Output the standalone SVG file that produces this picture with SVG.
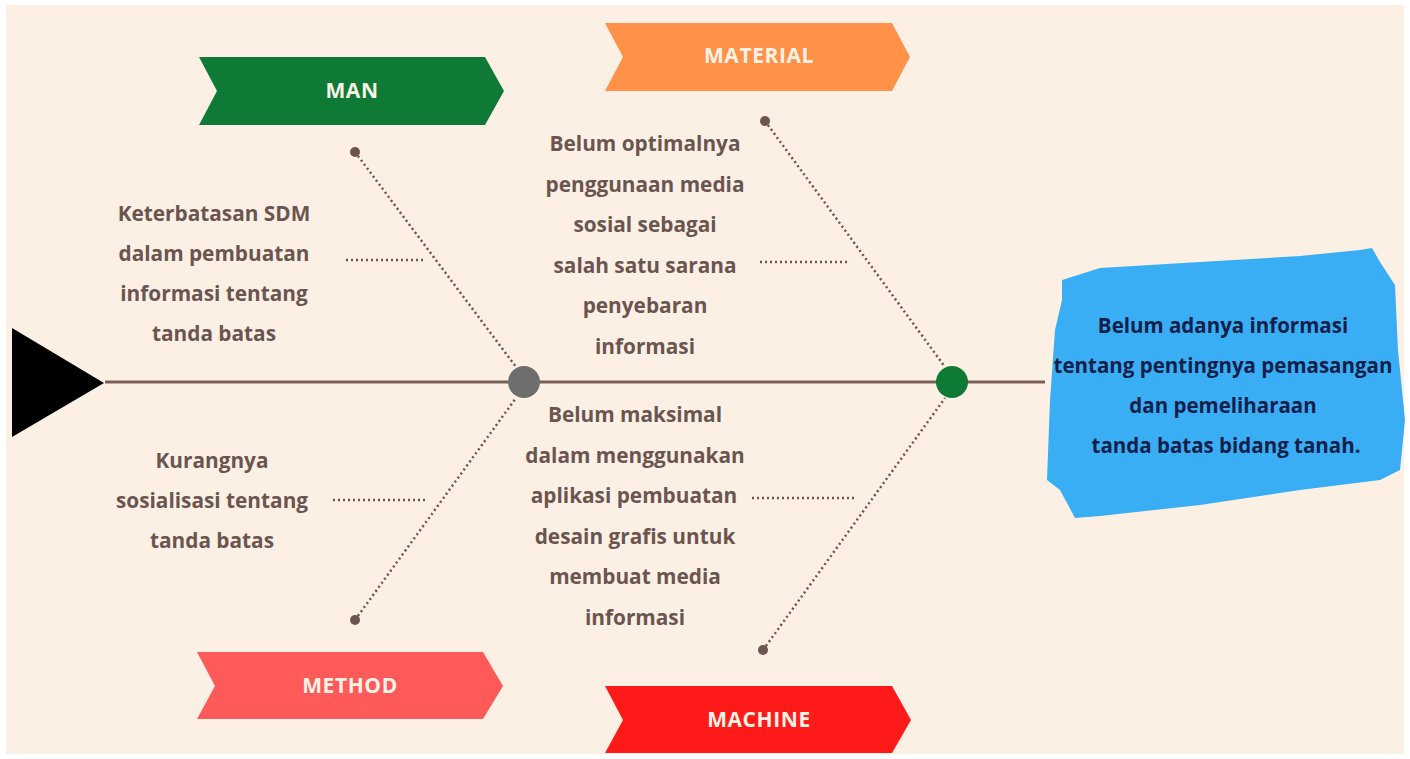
<svg xmlns="http://www.w3.org/2000/svg" width="1410" height="759" viewBox="0 0 1410 759">
<style>
.lbl{font-family:"Open Sans","Liberation Sans",sans-serif;font-weight:700;font-size:21px;letter-spacing:0.6px;fill:#F7F2E6;text-anchor:middle;dominant-baseline:central}
.cause{font-family:"Open Sans","Liberation Sans",sans-serif;font-weight:700;font-size:20.8px;fill:#6B5550;text-anchor:middle;dominant-baseline:central}
.eff{font-family:"Open Sans","Liberation Sans",sans-serif;font-weight:700;font-size:20.5px;fill:#13204A;text-anchor:middle;dominant-baseline:central}
.dot{stroke:#6B5550;stroke-width:2.5;stroke-dasharray:2 3;fill:none}
.end{fill:#6B5550}
</style>
<rect x="0" y="0" width="1410" height="759" fill="#FFFFFF"/>
<rect x="6" y="5" width="1398" height="749" fill="#FCF0E4"/>

<g id="connectors">
  <line x1="105" y1="382" x2="1045" y2="382" stroke="#7A6058" stroke-width="3"/>
  <line class="dot" x1="355" y1="152" x2="516" y2="367"/>
  <line class="dot" x1="355" y1="620" x2="516" y2="398"/>
  <line class="dot" x1="765" y1="121" x2="945" y2="367"/>
  <line class="dot" x1="763" y1="650" x2="945" y2="398"/>
  <circle class="end" cx="355" cy="152" r="5"/>
  <circle class="end" cx="355" cy="620" r="5"/>
  <circle class="end" cx="765" cy="121" r="5"/>
  <circle class="end" cx="763" cy="650" r="5"/>
  <line class="dot" x1="346" y1="260" x2="425" y2="260"/>
  <line class="dot" x1="333" y1="500" x2="425" y2="500"/>
  <line class="dot" x1="760" y1="262" x2="850" y2="262"/>
  <line class="dot" x1="752" y1="498" x2="857" y2="498"/>
</g>

<g id="head">
  <polygon points="12,328 104,383 12,437" fill="#000000"/>
</g>
<g id="junction-left"><circle cx="524" cy="382" r="16" fill="#6E6E6E"/></g>
<g id="junction-right"><circle cx="952" cy="382" r="16" fill="#0F7A35"/></g>

<g id="man">
  <polygon points="199,57 485,57 504,91 485,125 199,125 217,91" fill="#0F7A35"/>
  <text class="lbl" x="352" y="90">MAN</text>
</g>
<g id="material">
  <polygon points="605,23 892,23 910,57 892,91 605,91 623,57" fill="#FF9248"/>
  <text class="lbl" x="759" y="55">MATERIAL</text>
</g>
<g id="method">
  <polygon points="197,652 483,652 503,686 483,719 197,719 215,686" fill="#FF5A5A"/>
  <text class="lbl" x="350" y="685">METHOD</text>
</g>
<g id="machine">
  <polygon points="605,686 892,686 911,720 892,753 605,753 623,720" fill="#FF1A1A"/>
  <text class="lbl" x="759" y="719">MACHINE</text>
</g>

<g id="cause-man">
  <text class="cause" x="214" y="213">Keterbatasan SDM</text>
  <text class="cause" x="214" y="253">dalam pembuatan</text>
  <text class="cause" x="214" y="293">informasi tentang</text>
  <text class="cause" x="214" y="333">tanda batas</text>
</g>
<g id="cause-method">
  <text class="cause" x="212" y="460">Kurangnya</text>
  <text class="cause" x="212" y="500">sosialisasi tentang</text>
  <text class="cause" x="212" y="540">tanda batas</text>
</g>
<g id="cause-material">
  <text class="cause" x="645" y="143">Belum optimalnya</text>
  <text class="cause" x="645" y="184">penggunaan media</text>
  <text class="cause" x="645" y="224">sosial sebagai</text>
  <text class="cause" x="645" y="265">salah satu sarana</text>
  <text class="cause" x="645" y="305">penyebaran</text>
  <text class="cause" x="645" y="346">informasi</text>
</g>
<g id="cause-machine">
  <text class="cause" x="635" y="414">Belum maksimal</text>
  <text class="cause" x="635" y="455">dalam menggunakan</text>
  <text class="cause" x="634" y="495">aplikasi pembuatan</text>
  <text class="cause" x="635" y="536">desain grafis untuk</text>
  <text class="cause" x="635" y="576">membuat media</text>
  <text class="cause" x="635" y="617">informasi</text>
</g>

<g id="effect">
  <polygon points="1062,280 1100,268 1200,262 1300,256 1360,250 1372,248 1380,262 1395,285 1398,350 1405,420 1400,470 1380,480 1300,490 1200,505 1100,516 1075,518 1060,490 1047,480 1050,400 1055,330 1062,300" fill="#3AAEF5"/>
  <text class="eff" x="1223" y="325">Belum adanya informasi</text>
  <text class="eff" x="1223" y="365">tentang pentingnya pemasangan</text>
  <text class="eff" x="1223" y="405">dan pemeliharaan</text>
  <text class="eff" x="1226" y="445">tanda batas bidang tanah.</text>
</g>
</svg>
